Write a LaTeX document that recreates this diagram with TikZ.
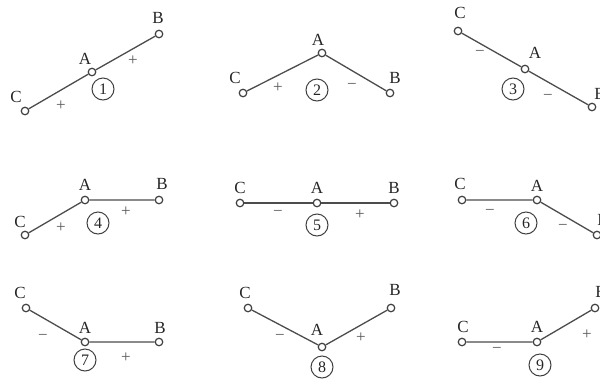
\documentclass[tikz,border=0pt]{standalone}
\usepackage{fontspec}
\setmainfont{Liberation Serif}
\begin{document}
\begin{tikzpicture}[x=1pt,y=-1pt,
  pin/.style={circle,draw=black!75,fill=white,line width=1.2pt,inner sep=0pt,minimum size=7.5pt},
  bar/.style={draw=black!70,line width=1.3pt},
  lbl/.style={font=\fontsize{17}{17}\selectfont,text=black!85,inner sep=0pt},
  sgn/.style={font=\fontsize{17}{17}\selectfont,text=black!65,inner sep=0pt},
  num/.style={circle,draw=black!75,line width=1pt,inner sep=0pt,minimum size=22pt,font=\fontsize{16}{16}\selectfont,text=black!85}]
\useasboundingbox (0,0) rectangle (600,381);
% ---- panel 1
\node[pin] (C1) at (25,111) {};
\node[pin] (A1) at (92,72) {};
\node[pin] (B1) at (159,34) {};
\path[bar] (C1) -- (A1) -- (B1);
\node[lbl] (lc1) at (16,97) {C};
\node[lbl] (la1) at (85,59) {A};
\node[lbl] (lb1) at (158,18) {B};
\node[sgn] (s11) at (61,106) {+};
\node[sgn] (s12) at (133,61) {+};
\node[num] (n1) at (103,89) {1};
% ---- panel 2
\node[pin] (C2) at (243,93) {};
\node[pin] (A2) at (322,53) {};
\node[pin] (B2) at (390,93) {};
\path[bar] (C2) -- (A2) -- (B2);
\node[lbl] (lc2) at (235,78) {C};
\node[lbl] (la2) at (318,40) {A};
\node[lbl] (lb2) at (395,78) {B};
\node[sgn] (s21) at (278,88) {+};
\node[sgn] (s22) at (352,86) {−};
\node[num] (n2) at (317,90) {2};
% ---- panel 3
\node[pin] (C3) at (458,31) {};
\node[pin] (A3) at (525,69) {};
\node[pin] (B3) at (592,107) {};
\path[bar] (C3) -- (A3) -- (B3);
\node[lbl] (lc3) at (460,13) {C};
\node[lbl] (la3) at (535,53) {A};
\node[lbl] (lb3) at (600,94) {B};
\node[sgn] (s31) at (480,53) {−};
\node[sgn] (s32) at (548,97) {−};
\node[num] (n3) at (513,89) {3};
% ---- panel 4
\node[pin] (C4) at (25,235) {};
\node[pin] (A4) at (85,200) {};
\node[pin] (B4) at (159,200) {};
\path[bar] (C4) -- (A4) -- (B4);
\node[lbl] (lc4) at (20,222) {C};
\node[lbl] (la4) at (85,185) {A};
\node[lbl] (lb4) at (162,184) {B};
\node[sgn] (s41) at (61,228) {+};
\node[sgn] (s42) at (126,212) {+};
\node[num] (n4) at (98,223) {4};
% ---- panel 5
\node[pin] (C5) at (240,203) {};
\node[pin] (A5) at (317,203) {};
\node[pin] (B5) at (394,203) {};
\path[bar] (C5) -- (A5) -- (B5);
\node[lbl] (lc5) at (240,188) {C};
\node[lbl] (la5) at (317,188) {A};
\node[lbl] (lb5) at (394,188) {B};
\node[sgn] (s51) at (278,213) {−};
\node[sgn] (s52) at (360,215) {+};
\node[num] (n5) at (317,225) {5};
% ---- panel 6
\node[pin] (C6) at (462,200) {};
\node[pin] (A6) at (537,200) {};
\node[pin] (B6) at (597,235) {};
\path[bar] (C6) -- (A6) -- (B6);
\node[lbl] (lc6) at (460,184) {C};
\node[lbl] (la6) at (537,186) {A};
\node[lbl] (lb6) at (603,220) {B};
\node[sgn] (s61) at (490,212) {−};
\node[sgn] (s62) at (563,227) {−};
\node[num] (n6) at (526,223) {6};
% ---- panel 7
\node[pin] (C7) at (26,308) {};
\node[pin] (A7) at (85,342) {};
\node[pin] (B7) at (159,342) {};
\path[bar] (C7) -- (A7) -- (B7);
\node[lbl] (lc7) at (20,293) {C};
\node[lbl] (la7) at (85,328) {A};
\node[lbl] (lb7) at (160,328) {B};
\node[sgn] (s71) at (43,337) {−};
\node[sgn] (s72) at (126,358) {+};
\node[num] (n7) at (85,360) {7};
% ---- panel 8
\node[pin] (C8) at (248,308) {};
\node[pin] (A8) at (322,347) {};
\node[pin] (B8) at (391,308) {};
\path[bar] (C8) -- (A8) -- (B8);
\node[lbl] (lc8) at (245,293) {C};
\node[lbl] (la8) at (317,330) {A};
\node[lbl] (lb8) at (395,290) {B};
\node[sgn] (s81) at (280,337) {−};
\node[sgn] (s82) at (361,338) {+};
\node[num] (n8) at (322,367) {8};
% ---- panel 9
\node[pin] (C9) at (462,342) {};
\node[pin] (A9) at (537,342) {};
\node[pin] (B9) at (595,308) {};
\path[bar] (C9) -- (A9) -- (B9);
\node[lbl] (lc9) at (463,327) {C};
\node[lbl] (la9) at (537,327) {A};
\node[lbl] (lb9) at (601,292) {B};
\node[sgn] (s91) at (497,350) {−};
\node[sgn] (s92) at (587,335) {+};
\node[num] (n9) at (540,365) {9};
\end{tikzpicture}
\end{document}
